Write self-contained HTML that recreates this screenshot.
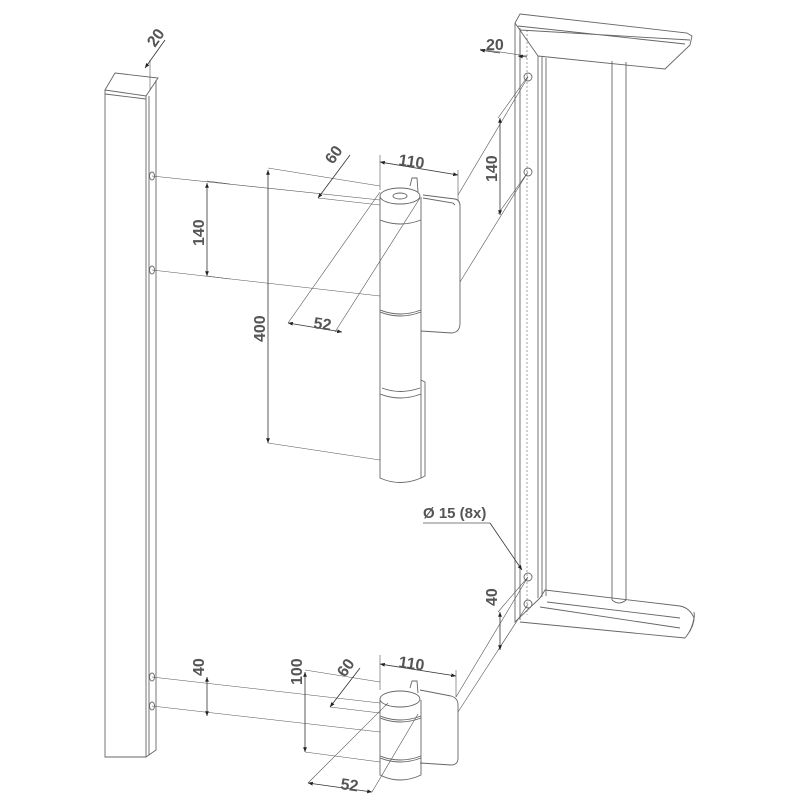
<!DOCTYPE html>
<html><head><meta charset="utf-8"><style>
html,body{margin:0;padding:0;background:#fff;width:800px;height:800px;overflow:hidden}
svg{display:block}
text{font-family:"Liberation Sans",sans-serif;font-size:16px;font-weight:bold;fill:#555}
</style></head><body>
<svg width="800" height="800" viewBox="0 0 800 800" xmlns="http://www.w3.org/2000/svg">
<defs>
<marker id="a" viewBox="0 0 10 10" refX="10" refY="5" markerWidth="6" markerHeight="6" orient="auto-start-reverse"><path d="M0,1 L10,5 L0,9z" fill="#222"/></marker>
</defs>
<g fill="none" stroke="#666" stroke-width="0.9">
<path d="M105,90 L115,73 L158,78 L146,96 Z"/>
<path d="M105,90 L105,757 L146,757 L146,96 M146,757 L156,750 L156,80 M105,94 L146,99 M149,96 L149,755"/>
<ellipse cx="152" cy="176" rx="2.5" ry="4"/><ellipse cx="152" cy="270" rx="2.5" ry="4"/>
<ellipse cx="152" cy="677" rx="2.5" ry="4"/><ellipse cx="152" cy="706" rx="2.5" ry="4"/>
<path d="M515,23 L520,14 L687,33 L692,36 L690,45 L665,69 L538,56 M515,23 L538,56 M518,26 L685,44 M520,30 L690,40"/>
<path d="M515,23 L515,622 L540,598 M520,28 L520,620 M538,56 L538,598 M542,57 L542,597 M546,58 L546,596"/>
<path d="M612,61 L612,600 M626,62 L626,600 M612,600 Q619,606 626,600"/>
<path d="M540,598 L545,590 L680,606 Q690,608 694,618 Q692,630 685,638 L520,622 M547,602 L680,618 M540,607 L680,628 M685,638 Q696,625 694,612"/>
<path d="M527,30 L527,615" stroke-dasharray="2,2" stroke-width="0.6"/>
<circle cx="528" cy="77" r="4"/><circle cx="528" cy="172" r="4"/><circle cx="528" cy="577" r="4"/><circle cx="528" cy="604" r="4"/>
<path d="M423,195 L455,199 Q460,200 460,206 L460,323 Q460,332 452,333 L421,331"/>
<path d="M423,198 L453,203 L455,205"/>
<path d="M410,186 L412,178 L417,178 L418,192"/>
<path d="M380,197 L380,478 Q400,487 421,478 L421,197"/>
<ellipse cx="400" cy="196" rx="20" ry="8"/><ellipse cx="400" cy="196" rx="7" ry="3"/>
<path d="M380,220 Q400,228 421,220 M380,310 Q400,318 421,310 M380,312 Q400,320 421,312 M380,394 Q400,402 421,394 M382,388 Q400,395 420,388 M421,380 L425,382 L425,476 L421,478"/>
<path d="M420,690 L451,696 Q458,698 458,705 L458,758 Q458,765 451,765 L420,763"/>
<path d="M410,688 L412,681 L417,681 L418,693"/>
<path d="M380,700 L380,775 Q400,785 421,775 L421,700"/>
<ellipse cx="400" cy="699" rx="20" ry="8"/>
<path d="M380,716 Q400,724 421,716 M380,718 Q400,726 421,718 M380,756 Q400,764 421,756 M380,758 Q400,766 421,758"/>
</g>
<g fill="none" stroke="#555" stroke-width="0.6">
<path d="M152,176 L380,200 M152,270 L380,296 M152,677 L380,703 M152,706 L380,732"/>
<path d="M268,168 L380,186 M268,443 L380,460 M207,181 L230,184 M207,276 L230,279 M305,670 L380,682 M305,752 L380,762"/>
<path d="M380,155 L380,190 M458,170 L458,200 M380,655 L380,690 M456,670 L456,697"/>
<path d="M528,77 L458,195 M528,172 L460,282 M528,577 L456,697 M528,604 L458,712 M498,118 L528,76 M498,214 L528,172 M498,612 L528,577 M498,650 L528,604"/>
<path d="M288,323 L380,192 M335,332 L420,198 M308,783 L388,703 M372,792 L418,714"/>
<path d="M318,198 L380,205 M330,707 L380,713"/>
<path d="M480,49 L527,56 M520,35 L520,60 M150,60 L150,90"/>
<path d="M423,523 L490,523" stroke="#aaa" stroke-width="1.5"/>
</g>
<g fill="none" stroke="#333" stroke-width="0.8" marker-start="url(#a)" marker-end="url(#a)">
<path d="M268,170 L268,443"/>
<path d="M207,183 L207,276"/>
<path d="M500,118 L500,215"/>
<path d="M380,162 L458,175"/>
<path d="M380,664 L456,676"/>
<path d="M288,323 L342,332"/>
<path d="M308,783 L372,792"/>
<path d="M207,677 L207,716"/>
<path d="M305,672 L305,752"/>
<path d="M500,612 L500,650"/>
</g>
<g fill="none" stroke="#333" stroke-width="0.8">
<path d="M318,198 L350,155" marker-start="url(#a)"/>
<path d="M330,707 L360,668" marker-start="url(#a)"/>
<path d="M490,523 L522,570" marker-end="url(#a)"/>
<path d="M480,50 L500,53" marker-start="url(#a)"/>
<path d="M518,56 L527,57" marker-start="url(#a)"/>
<path d="M145,68 L165,40" marker-start="url(#a)"/>
</g>
<text transform="translate(265,342) rotate(-90)">400</text>
<text transform="translate(204,246) rotate(-90)">140</text>
<text transform="translate(497,182) rotate(-90)">140</text>
<text transform="translate(204,676) rotate(-90)">40</text>
<text transform="translate(302,685) rotate(-90)">100</text>
<text transform="translate(497,606) rotate(-90)">40</text>
<text transform="translate(333,165) rotate(-55)">60</text>
<text transform="translate(345,678) rotate(-55)">60</text>
<text transform="translate(155,48) rotate(-55)">20</text>
<text transform="translate(398,165) rotate(8)">110</text>
<text transform="translate(398,667) rotate(8)">110</text>
<text transform="translate(313,328) rotate(8)">52</text>
<text transform="translate(340,789) rotate(8)">52</text>
<text x="486" y="50">20</text>
<text x="423" y="518" style="font-size:15px">Ø 15 (8x)</text>
</svg>
</body></html>
